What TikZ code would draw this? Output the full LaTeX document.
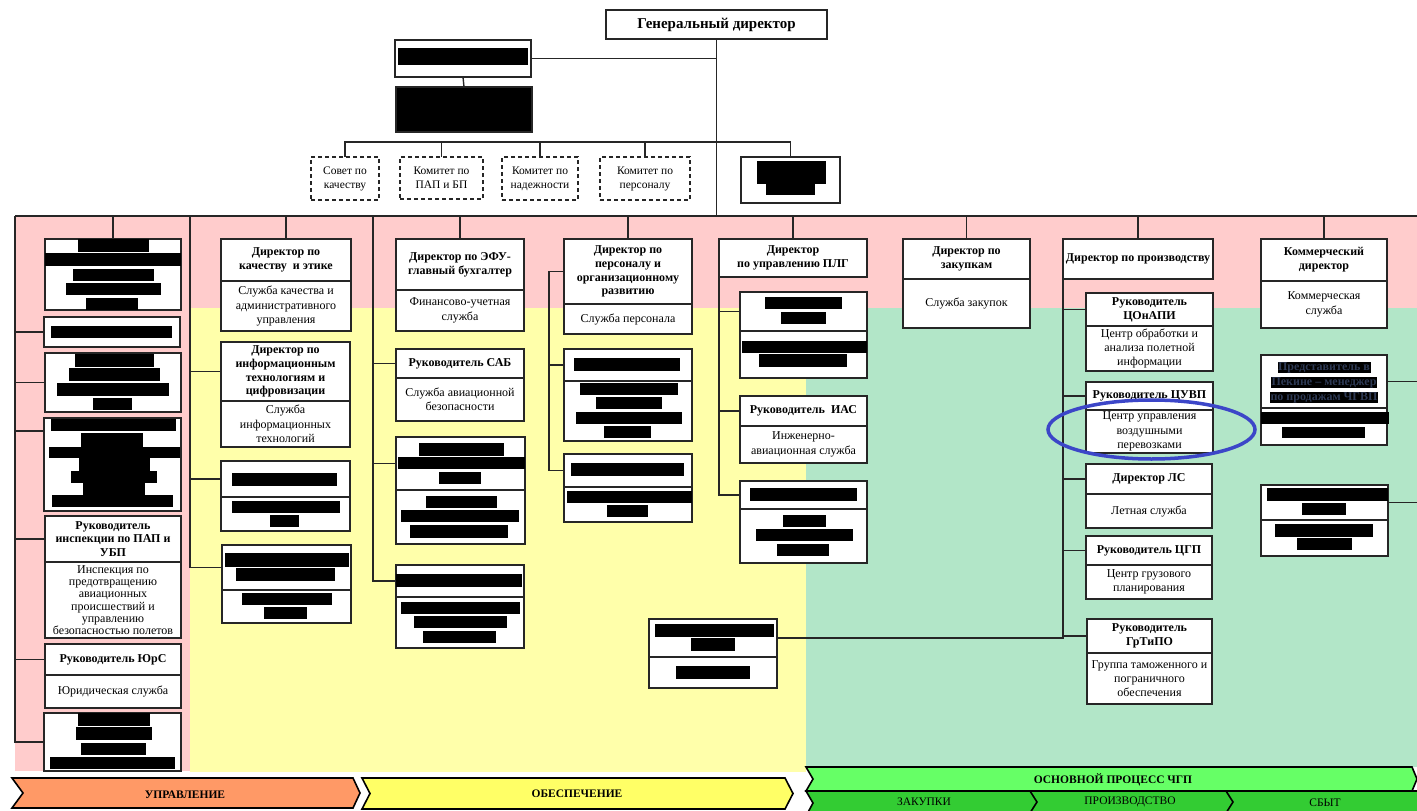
\documentclass[tikz,border=0pt]{standalone}
\usepackage{fontspec}
\setmainfont{Liberation Serif}
\usetikzlibrary{shapes.geometric}
\definecolor{pinkbg}{HTML}{FFCCCC}
\definecolor{yelbg}{HTML}{FFFFAA}
\definecolor{grnbg}{HTML}{B2E6C8}
\definecolor{lnc}{HTML}{262626}
\definecolor{orarr}{HTML}{FF9966}
\definecolor{yelarr}{HTML}{FFFF66}
\definecolor{grnarr}{HTML}{66FF66}
\definecolor{grnarrb}{HTML}{33CC33}
\definecolor{ellc}{HTML}{3C46C8}
\definecolor{hltext}{HTML}{2E3A55}
\newcommand{\HF}{\fontsize{12}{13.8}\selectfont\bfseries}
\newcommand{\BF}{\fontsize{12}{14.3}\selectfont}
\newcommand{\CF}{\fontsize{11.5}{14}\selectfont}
\newcommand{\AF}{\fontsize{11.5}{13}\selectfont\bfseries}
\newcommand{\AFR}{\fontsize{11.5}{13}\selectfont}
\tikzset{
  orgbox/.style={draw=lnc, line width=1.4pt, fill=white, inner sep=0pt, outer sep=0pt, align=center},
  conn/.style={draw=lnc, line width=1.4pt},
  hltxt/.style={fill=black, text=hltext, inner sep=0.6pt, font=\HF},
  arrowshape/.style={draw=black, line width=1.6pt, line join=miter},
}
% \SB{opts}{name}{x1}{y1}{x2}{y2}{text}
\newcommand{\SB}[7]{\node[orgbox,#1,minimum width={(#5-#3)*1pt},minimum height={(#6-#4)*1pt}] (#2) at ({(#3+#5)/2},{(#4+#6)/2}) {#7};}
% \DB{name}{x1}{y1}{x2}{ydiv}{y2}{head}{body}
\newcommand{\DB}[8]{\SB{font=\HF}{#1h}{#2}{#3}{#4}{#5}{#7}\SB{font=\BF}{#1b}{#2}{#5}{#4}{#6}{#8}}
\newcommand{\BK}[4]{\fill[black] (#1,#2) rectangle (#3,#4);}
\begin{document}
\begin{tikzpicture}[x=1pt,y=-1pt]
\useasboundingbox (0,0) rectangle (1417,811);
% zones
\fill[pinkbg] (15,217) rectangle (1417,308);
\fill[pinkbg] (15,308) rectangle (190,771);
\fill[yelbg] (190,308) rectangle (806,772);
\fill[grnbg] (806,308) rectangle (1417,767);

% top
\SB{font=\fontsize{15}{17}\selectfont\bfseries}{gd}{606}{10}{827}{39}{Генеральный директор}
\SB{}{tb1}{395}{40}{531}{77}{}
\BK{398}{48}{528}{65}
\SB{fill=black}{tb2}{396}{87}{532}{132}{}
\SB{font=\CF,dash pattern=on 4pt off 3pt}{k1}{311}{157}{379}{200}{Совет по\\качеству}
\SB{font=\CF,dash pattern=on 4pt off 3pt}{k2}{400}{157}{483}{199}{Комитет по\\ПАП и БП}
\SB{font=\CF,dash pattern=on 4pt off 3pt}{k3}{502}{157}{578}{200}{Комитет по\\надежности}
\SB{font=\CF,dash pattern=on 4pt off 3pt}{k4}{600}{157}{690}{200}{Комитет по\\персоналу}
\SB{}{k5}{741}{157}{840}{203}{}
\BK{757}{161}{826}{184}\BK{766}{184}{815}{195}

% column 1
\SB{}{c1a}{45}{239}{181}{310}{}
\BK{78}{239}{149}{252}\BK{45}{253}{181}{266}\BK{73}{269}{154}{281}\BK{66}{283}{161}{295}\BK{86}{298}{138}{310}
\SB{}{c1b}{44}{317}{180}{347}{}
\BK{51}{326}{172}{338}
\SB{}{c1c}{45}{353}{181}{412}{}
\BK{75}{354}{154}{367}\BK{69}{368}{160}{381}\BK{57}{383}{169}{396}\BK{93}{398}{132}{410}
\SB{}{c1d}{44}{418}{181}{511}{}
\BK{51}{419}{176}{431}\BK{81}{433}{143}{447}\BK{49}{447}{180}{458}\BK{79}{458}{150}{471}\BK{71}{471}{157}{483}\BK{83}{483}{145}{495}\BK{52}{495}{173}{507}
\coordinate (c1dp) at (44,431);
\SB{font=\HF}{c1eh}{45}{516}{181}{562}{Руководитель\\инспекции по ПАП и\\УБП}
\SB{font=\fontsize{12}{12.3}\selectfont}{c1eb}{45}{562}{181}{638}{Инспекция по\\предотвращению\\авиационных\\происшествий и\\управлению\\безопасностью полетов}
\DB{c1f}{45}{644}{181}{675}{708}{Руководитель ЮрС}{Юридическая служба}
\SB{}{c1g}{44}{713}{181}{771}{}
\BK{78}{713}{150}{726}\BK{76}{727}{152}{740}\BK{81}{743}{146}{755}\BK{50}{757}{175}{769}

% column 2
\DB{c2a}{221}{239}{351}{281}{331}{Директор по\\качеству\ \ и этике}{Служба качества и\\административного\\управления}
\DB{c2b}{221}{342}{350}{401}{447}{Директор по\\информационным\\технологиям и\\цифровизации}{Служба\\информационных\\технологий}
\DB{c2c}{221}{461}{350}{497}{531}{}{}
\BK{232}{473}{337}{486}\BK{232}{501}{340}{513}\BK{270}{515}{299}{527}
\DB{c2d}{222}{545}{351}{590}{623}{}{}
\BK{225}{553}{349}{567}\BK{236}{568}{335}{581}\BK{242}{593}{332}{605}\BK{264}{607}{307}{619}

% column 3
\DB{c3a}{396}{239}{524}{290}{331}{Директор по ЭФУ-\\главный бухгалтер}{Финансово-учетная\\служба}
\DB{c3b}{396}{349}{524}{378}{421}{Руководитель САБ}{Служба авиационной\\безопасности}
\DB{c3c}{396}{437}{525}{490}{544}{}{}
\BK{419}{443}{504}{456}\BK{398}{457}{525}{469}\BK{439}{472}{481}{484}\BK{426}{496}{497}{508}\BK{401}{510}{519}{522}\BK{410}{525}{508}{538}
\DB{c3d}{396}{565}{524}{597}{648}{}{}
\BK{396}{574}{522}{587}\BK{401}{602}{520}{614}\BK{414}{616}{507}{628}\BK{423}{631}{496}{643}

% column 4
\DB{c4a}{564}{239}{692}{304}{334}{Директор по\\персоналу и\\организационному\\развитию}{Служба персонала}
\DB{c4b}{564}{349}{692}{381}{441}{}{}
\BK{574}{358}{680}{371}\BK{580}{383}{678}{395}\BK{596}{397}{662}{409}\BK{576}{412}{682}{424}\BK{604}{426}{651}{438}
\DB{c4c}{564}{454}{692}{487}{522}{}{}
\BK{571}{463}{684}{476}\BK{567}{491}{692}{503}\BK{607}{505}{648}{517}

% column 5
\SB{font=\HF}{c5a}{719}{239}{867}{277}{Директор\\по управлению ПЛГ}
\DB{c5b}{740}{292}{867}{331}{378}{}{}
\BK{765}{297}{842}{309}\BK{781}{312}{826}{324}\BK{742}{341}{867}{353}\BK{759}{354}{847}{367}
\DB{c5c}{740}{396}{867}{426}{463}{Руководитель\ \ ИАС}{Инженерно-\\авиационная служба}
\DB{c5d}{740}{481}{867}{509}{563}{}{}
\BK{750}{488}{857}{501}\BK{783}{515}{826}{527}\BK{756}{529}{853}{541}\BK{777}{544}{829}{556}

% column 6
\DB{c6}{903}{239}{1030}{279}{328}{Директор по\\закупкам}{Служба закупок}

% column 7
\SB{font=\HF}{c7a}{1063}{239}{1213}{279}{Директор по производству}
\DB{c7b}{1086}{293}{1213}{326}{371}{Руководитель\\ЦОнАПИ}{Центр обработки и\\анализа полетной\\информации}
\DB{c7c}{1086}{382}{1213}{410}{453}{Руководитель ЦУВП}{Центр управления\\воздушными\\перевозками}
\DB{c7d}{1086}{464}{1212}{494}{528}{Директор ЛС}{Летная служба}
\DB{c7e}{1086}{536}{1212}{565}{599}{Руководитель ЦГП}{Центр грузового\\планирования}
\DB{c7f}{1087}{619}{1212}{653}{704}{Руководитель\\ГрТиПО}{Группа таможенного и\\пограничного\\обеспечения}
\DB{bb}{649}{619}{777}{657}{688}{}{}
\BK{655}{624}{774}{637}\BK{691}{638}{735}{651}\BK{676}{666}{750}{679}

% column 8
\DB{c8a}{1261}{239}{1387}{281}{328}{Коммерческий\\директор}{Коммерческая\\служба}
\DB{c8b}{1261}{355}{1387}{408}{445}{}{}
\node[hltxt] (rep1) at (1324,367.5) {Представитель в};
\node[hltxt] (rep2) at (1324,382.5) {Пекине – менеджер};
\node[hltxt] (rep3) at (1324,397.5) {по продажам ЧГВП};
\BK{1261}{412}{1389}{424}\BK{1282}{427}{1365}{438}
\DB{c8c}{1261}{485}{1388}{520}{556}{}{}
\BK{1267}{488}{1388}{501}\BK{1302}{503}{1346}{515}\BK{1275}{524}{1373}{537}\BK{1297}{538}{1352}{550}

% connectors
\coordinate (busL) at (15,216);
\coordinate (busR) at (1417,216);
\coordinate (cbus) at (716.5,142);
\draw[conn] (gd.south) -- (gd.south |- busL);
\draw[conn] (tb1.east) -- (tb1.east -| gd.south);
\draw[conn] (tb1.south) -- (tb2.north);
\draw[conn] (k1.north) |- (cbus) -| (k5.north);
\foreach \k in {k2,k3,k4} {\draw[conn] (\k.north) -- (\k.north |- cbus);}
\draw[conn] (busL) -- (busR);
\foreach \n in {c1a,c2ah,c3ah,c4ah,c5a,c6h,c7a,c8ah} {\draw[conn] (\n.north) -- (\n.north |- busL);}
% column 1 spine
\draw[conn] (busL) |- (c1g.west);
\foreach \n in {c1b.west,c1c.west,c1dp,c1eh.west,c1fh.west} {\draw[conn] (\n) -- (\n -| busL);}
% column 2 spine
\coordinate (s2) at (190,216);
\draw[conn] (s2) |- (c2dh.west);
\foreach \n in {c2bh,c2ch} {\draw[conn] (\n.west) -- (\n.west -| s2);}
% column 3 spine
\coordinate (s3) at (373,216);
\draw[conn] (s3) |- (c3dh.west);
\foreach \n in {c3bh,c3ch} {\draw[conn] (\n.west) -- (\n.west -| s3);}
% column 4 spine
\coordinate (s4) at (549,271.5);
\draw[conn] (c4ah.west) -- (s4) |- (c4ch.west);
\draw[conn] (c4bh.west) -- (c4bh.west -| s4);
% column 5 spine
\draw[conn] (c5a.south west) |- (c5dh.west);
\foreach \n in {c5bh,c5ch} {\draw[conn] (\n.west) -- (\n.west -| c5a.south west);}
% column 7 spine
\draw[conn] (bbh.east) -| (c7a.south west);
\foreach \n in {c7bh,c7ch,c7dh,c7eh,c7fh} {\draw[conn] (\n.west) -- (\n.west -| c7a.south west);}
% column 8 side lines
\draw[conn] (c8bh.east) -- (c8bh.east -| busR);
\draw[conn] (c8ch.east) -- (c8ch.east -| busR);

% highlight ellipse
\node[ellipse, draw=ellc, line width=3.5pt, minimum width=207pt, minimum height=59pt, inner sep=0pt] (mark) at (1151.5,429.5) {};

% process arrows
\filldraw[arrowshape, fill=orarr] (12,778) -- (353,778) -- (360,793) -- (353,808) -- (12,808) -- (23,793) -- cycle;
\node[font=\AF] (pa1) at (185,795) {УПРАВЛЕНИЕ};
\filldraw[arrowshape, fill=yelarr] (362,778) -- (785,778) -- (793,793.5) -- (785,809) -- (362,809) -- (370,793.5) -- cycle;
\node[font=\AF] (pa2) at (577,794) {ОБЕСПЕЧЕНИЕ};
\filldraw[arrowshape, fill=grnarrb] (806,791) -- (1418,791) -- (1418,816) -- (806,816) -- (813,803) -- cycle;
\draw[arrowshape] (1030,791) -- (1037,802) -- (1030,813);
\draw[arrowshape] (1226,791) -- (1233,802) -- (1226,813);
\filldraw[arrowshape, fill=grnarr] (806,767) -- (1412,767) -- (1417,779) -- (1412,791) -- (806,791) -- (813,779) -- cycle;
\node[font=\AF] (pa3) at (1113,780) {ОСНОВНОЙ ПРОЦЕСС ЧГП};
\node[font=\AFR] (pa4) at (924,802) {ЗАКУПКИ};
\node[font=\AFR] (pa5) at (1130,802) {ПРОИЗВОДСТВО};
\node[font=\AFR] (pa6) at (1325,803) {СБЫТ};
\end{tikzpicture}
\end{document}
